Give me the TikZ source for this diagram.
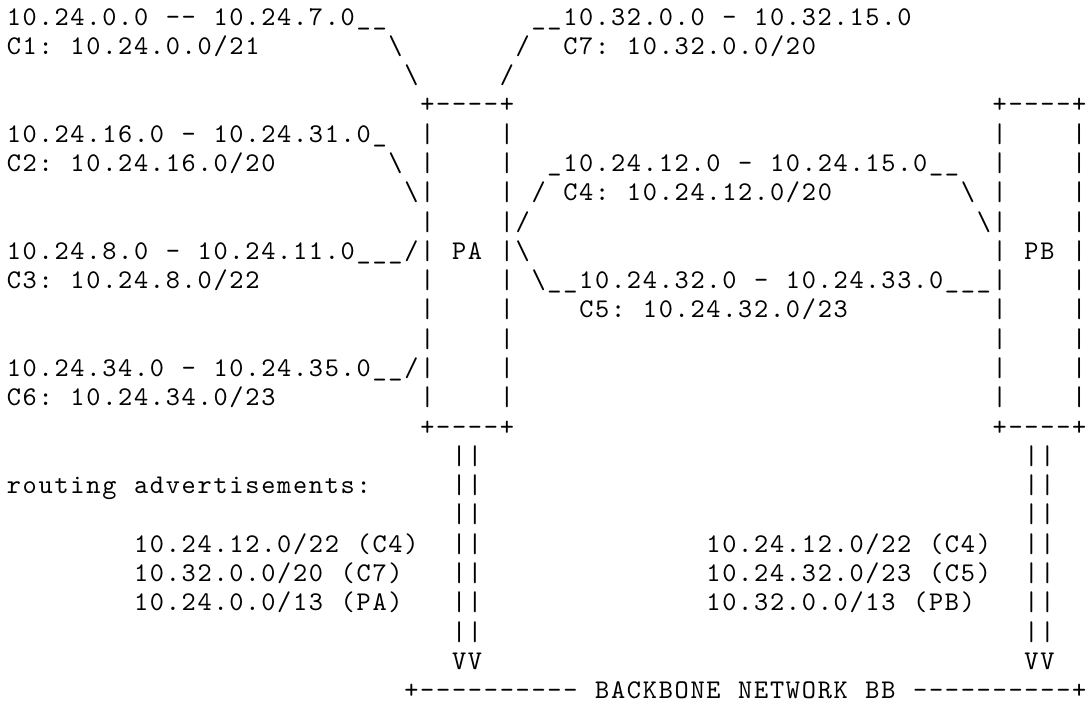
\documentclass[tikz,border=0pt]{standalone}
\usepackage{fontspec}
\usepackage{tikz}
\newfontfamily\asciifont{lmmono10-regular.otf}

% one character cell of the plain text figure
\newcommand\cellw{7.95pt}
\newcommand\bs{\textbackslash}
\def\ascstop{\ascstop}
\def\ascchars#1{\ifx\ascstop#1\else\hbox to\cellw{\hss#1\hss}\expandafter\ascchars\fi}
\def\ascwords#1 #2\ascend{\ascchars#1\ascstop
  \ifx\ascstop#2\ascstop\else\hbox to\cellw{}\ascwords#2\ascend\fi}
\newcommand\ascstr[1]{\ascwords#1 \ascend}

% text run at line #1, column #2
\newcommand\asc[3]{\node[ascii] (l#1c#2) at ({3pt+#2*\cellw},{-12.5pt-(#1-1)*14.645pt}) {\ascstr{#3}};}

\begin{document}
\begin{tikzpicture}[
    ascii/.style={font=\asciifont\fontsize{13.5pt}{14.6pt}\selectfont, inner sep=0pt, outer sep=0pt, anchor=base west}
]
\useasboundingbox (0,0) rectangle (544pt,-351.5pt);
\fill[white] (0,0) rectangle (544pt,-351.5pt);

% --- top: C1 and C7 ---
\asc{1}{0}{10.24.0.0 -- 10.24.7.0\_\_}
\asc{1}{33}{\_\_10.32.0.0 - 10.32.15.0}
\asc{2}{0}{C1: 10.24.0.0/21}
\asc{2}{24}{\bs}
\asc{2}{32}{/}
\asc{2}{35}{C7: 10.32.0.0/20}
\asc{3}{25}{\bs}
\asc{3}{31}{/}

% --- boxes PA and PB ---
\asc{4}{26}{+----+}
\asc{4}{62}{+----+}
\foreach \k in {5,...,14} {
  \asc{\k}{26}{|}
  \asc{\k}{31}{|}
  \asc{\k}{62}{|}
  \asc{\k}{67}{|}
}
\asc{15}{26}{+----+}
\asc{15}{62}{+----+}
\asc{9}{28}{PA}
\asc{9}{64}{PB}

% --- left: C2, C3, C6 ---
\asc{5}{0}{10.24.16.0 - 10.24.31.0\_}
\asc{6}{0}{C2: 10.24.16.0/20}
\asc{6}{24}{\bs}
\asc{7}{25}{\bs}
\asc{9}{0}{10.24.8.0 - 10.24.11.0\_\_\_/}
\asc{10}{0}{C3: 10.24.8.0/22}
\asc{13}{0}{10.24.34.0 - 10.24.35.0\_\_/}
\asc{14}{0}{C6: 10.24.34.0/23}

% --- middle: C4, C5 ---
\asc{6}{34}{\_10.24.12.0 - 10.24.15.0\_\_}
\asc{7}{33}{/}
\asc{7}{35}{C4: 10.24.12.0/20}
\asc{7}{60}{\bs}
\asc{8}{32}{/}
\asc{8}{61}{\bs}
\asc{9}{32}{\bs}
\asc{10}{33}{\bs\_\_10.24.32.0 - 10.24.33.0\_\_\_}
\asc{11}{36}{C5: 10.24.32.0/23}

% --- advertisements down to the backbone ---
\foreach \k in {16,...,22} {
  \asc{\k}{28}{||}
  \asc{\k}{64}{||}
}
\asc{17}{0}{routing advertisements:}
\asc{19}{8}{10.24.12.0/22 (C4)}
\asc{20}{8}{10.32.0.0/20 (C7)}
\asc{21}{8}{10.24.0.0/13 (PA)}
\asc{19}{44}{10.24.12.0/22 (C4)}
\asc{20}{44}{10.24.32.0/23 (C5)}
\asc{21}{44}{10.32.0.0/13 (PB)}
\asc{23}{28}{VV}
\asc{23}{64}{VV}
\asc{24}{25}{+---------- BACKBONE NETWORK BB ----------+}

\end{tikzpicture}
\end{document}
